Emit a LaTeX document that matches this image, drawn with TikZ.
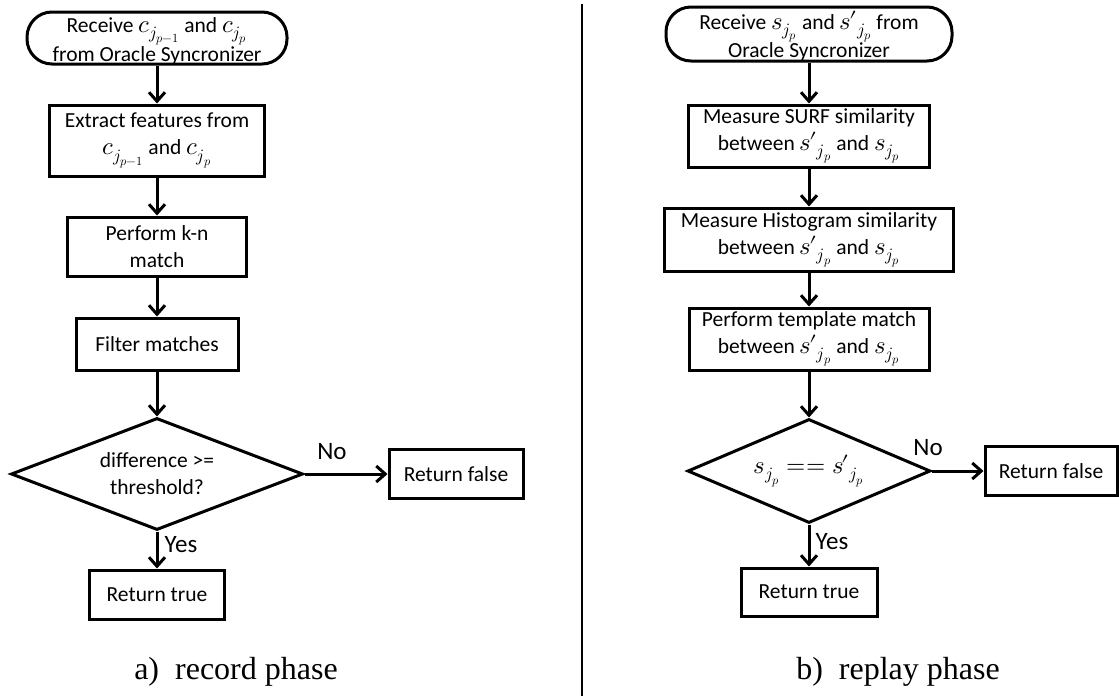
\documentclass[tikz,border=0pt]{standalone}
\usepackage{fontspec}
\usepackage{unicode-math}
\setmainfont{Carlito}
\setmathfont{Latin Modern Math}[Scale=1.15]
\newfontfamily\capfont{Liberation Serif}
\usetikzlibrary{shapes.geometric,arrows.meta}
% s with an upright prime, subscript set after the prime
\newcommand{\sprime}{{s\mkern-1.5mu\prime}}

\begin{document}
\begin{tikzpicture}[x=1pt,y=-1pt,
  every node/.style={font=\fontsize{21.5}{27}\selectfont, align=center, inner sep=0pt},
  proc/.style={draw, line width=3pt, rectangle},
  term/.style={draw, line width=3pt, rectangle, rounded corners=25pt},
  decide/.style={draw, diamond, line width=3pt, inner sep=0pt},
  flow/.style={-{Straight Barb[length=9pt,width=16pt]}, line width=3pt},
  lbl/.style={font=\fontsize{25}{30}\selectfont},
  caption/.style={font=\capfont\fontsize{32}{38}\selectfont},
]
\useasboundingbox (0,0) rectangle (1119,696);

% ---------- a) record phase ----------
\node[term, minimum width=260pt, minimum height=52pt] (a0) at (157,38) {};
\node (a0t) at (157,41) {Receive $c_{j_{p-1}}$ and $c_{j_p}$\\from Oracle Syncronizer};
\node[proc, minimum width=215pt, minimum height=71pt] (a1) at (157,140.5)
  {Extract features from\\$c_{j_{p-1}}$ and $c_{j_p}$};
\node[proc, minimum width=179pt, minimum height=59pt] (a2) at (157,246.5)
  {Perform k-n\\match};
\node[proc, minimum width=162pt, minimum height=52pt] (a3) at (157,344)
  {Filter matches};
\node[decide, aspect=2.6, minimum width=292pt, minimum height=112pt] (a4) at (157,474)
  {difference >=\\threshold?};
\node[proc, minimum width=134pt, minimum height=49pt] (a5) at (456,474)
  {Return false};
\node[proc, minimum width=135pt, minimum height=49pt] (a6) at (157,594.5)
  {Return true};
\node[lbl] (ano) at (332,452) {No};
\node[lbl] (ayes) at (181,545) {Yes};

\draw[flow] (a0.south) -- (a1.north);
\draw[flow] (a1.south) -- (a2.north);
\draw[flow] (a2.south) -- (a3.north);
\draw[flow] (a3.south) -- (a4.north);
\draw[flow] (a4.east) -- (a5.west);
\draw[flow] (a4.south) -- (a6.north);

\node[caption] (capa) at (236,672) {a)\ \ record phase};

% ---------- divider ----------
\coordinate (dtop) at (582,4);
\coordinate (dbot) at (582,696);
\draw[line width=2.5pt] (dtop) -- (dbot);

% ---------- b) replay phase ----------
\node[term, minimum width=286pt, minimum height=54pt] (b0) at (809,34) {};
\node (b0t) at (809,36) {Receive $s_{j_p}$ and $\sprime_{j_p}$ from\\Oracle Syncronizer};
\node[proc, minimum width=241pt, minimum height=62pt] (b1) at (809,136)
  {Measure SURF similarity\\between $\sprime_{j_p}$ and $s_{j_p}$};
\node[proc, minimum width=289pt, minimum height=63pt] (b2) at (809,239.5)
  {Measure Histogram similarity\\between $\sprime_{j_p}$ and $s_{j_p}$};
\node[proc, minimum width=240pt, minimum height=62pt] (b3) at (809,339)
  {Perform template match\\between $\sprime_{j_p}$ and $s_{j_p}$};
\node[decide, aspect=2.34, minimum width=243pt, minimum height=104pt] (b4) at (809,471)
  {$s_{j_p} \mathrel{==} \sprime_{j_p}$};
\node[proc, minimum width=132pt, minimum height=49pt] (b5) at (1051,471)
  {Return false};
\node[proc, minimum width=136pt, minimum height=48pt] (b6) at (809,592)
  {Return true};
\node[lbl] (bno) at (928,448) {No};
\node[lbl] (byes) at (832,542) {Yes};

\draw[flow] (b0.south) -- (b1.north);
\draw[flow] (b1.south) -- (b2.north);
\draw[flow] (b2.south) -- (b3.north);
\draw[flow] (b3.south) -- (b4.north);
\draw[flow] (b4.east) -- (b5.west);
\draw[flow] (b4.south) -- (b6.north);

\node[caption] (capb) at (898,672) {b)\ \ replay phase};
\end{tikzpicture}
\end{document}
